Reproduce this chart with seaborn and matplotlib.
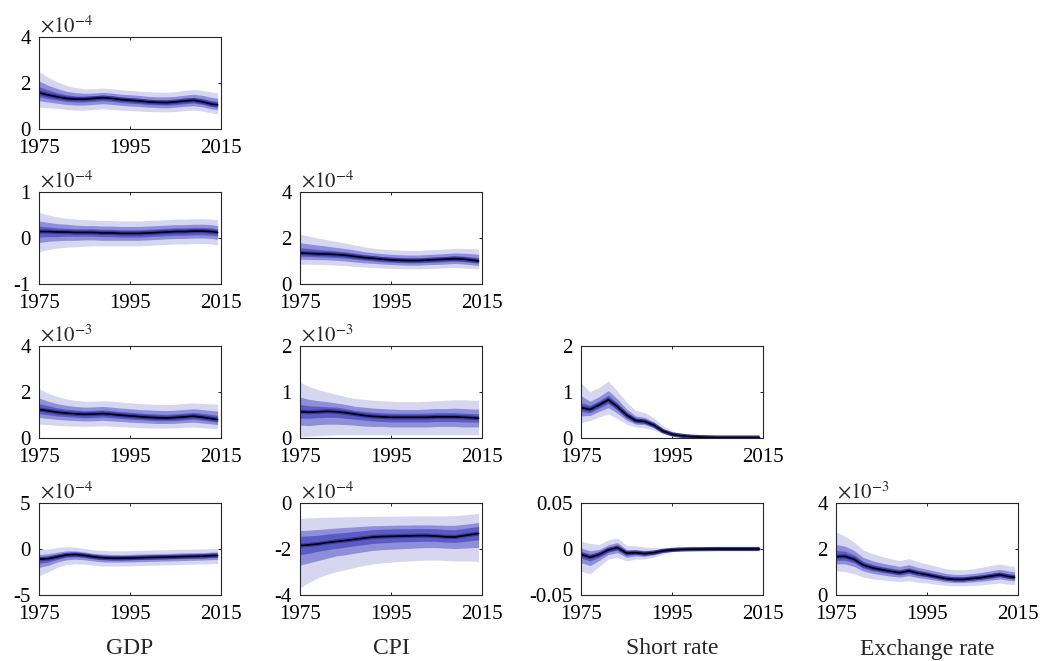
import numpy as np
import pandas as pd
import matplotlib
matplotlib.use("Agg")
import matplotlib.pyplot as plt
import seaborn as sns

# ---------------------------------------------------------------
# Posterior fan charts of the time-varying error covariance matrix
# (lower triangle: GDP, CPI, short rate, exchange rate)
# ---------------------------------------------------------------
years = [1975, 1977, 1979, 1981, 1983, 1985, 1987, 1989, 1991, 1993, 1995,
         1997, 1999, 2001, 2003, 2005, 2007, 2009, 2011, 2013, 2014.25]

variables = ["GDP", "CPI", "Short rate", "Exchange rate"]

# --- GDP variance (x 1e-4)
gdp_gdp_med  = [1.58, 1.48, 1.40, 1.33, 1.30, 1.30, 1.33, 1.36, 1.33, 1.28, 1.25, 1.22, 1.18, 1.16, 1.15, 1.18, 1.22, 1.25, 1.18, 1.08, 1.05]
gdp_gdp_hi90 = [2.50, 2.25, 2.05, 1.90, 1.80, 1.75, 1.75, 1.78, 1.75, 1.70, 1.68, 1.65, 1.62, 1.60, 1.60, 1.62, 1.68, 1.72, 1.68, 1.60, 1.58]
gdp_gdp_lo90 = [0.95, 0.92, 0.90, 0.85, 0.82, 0.82, 0.85, 0.88, 0.85, 0.82, 0.80, 0.78, 0.76, 0.75, 0.74, 0.76, 0.80, 0.82, 0.78, 0.70, 0.66]
gdp_gdp_hi68 = [2.09, 1.90, 1.76, 1.64, 1.58, 1.55, 1.56, 1.59, 1.56, 1.51, 1.49, 1.46, 1.42, 1.40, 1.40, 1.42, 1.47, 1.51, 1.46, 1.37, 1.34]
gdp_gdp_lo68 = [1.23, 1.17, 1.12, 1.07, 1.04, 1.04, 1.07, 1.10, 1.07, 1.03, 1.00, 0.98, 0.95, 0.93, 0.92, 0.95, 0.99, 1.01, 0.96, 0.87, 0.84]
gdp_gdp_hi30 = [1.84, 1.70, 1.58, 1.49, 1.44, 1.43, 1.45, 1.48, 1.45, 1.40, 1.37, 1.34, 1.30, 1.28, 1.28, 1.30, 1.35, 1.38, 1.32, 1.23, 1.20]
gdp_gdp_lo30 = [1.40, 1.32, 1.26, 1.20, 1.17, 1.17, 1.20, 1.23, 1.20, 1.15, 1.12, 1.10, 1.06, 1.05, 1.04, 1.06, 1.10, 1.13, 1.07, 0.97, 0.94]

# --- GDP / CPI covariance (x 1e-4)
gdp_cpi_med  = [0.14, 0.14, 0.13, 0.13, 0.12, 0.12, 0.12, 0.11, 0.11, 0.10, 0.10, 0.10, 0.11, 0.12, 0.13, 0.14, 0.14, 0.15, 0.15, 0.14, 0.12]
gdp_cpi_hi90 = [0.56, 0.50, 0.46, 0.43, 0.41, 0.40, 0.39, 0.38, 0.38, 0.37, 0.37, 0.37, 0.38, 0.39, 0.40, 0.41, 0.41, 0.42, 0.42, 0.41, 0.40]
gdp_cpi_lo90 = [-0.30, -0.25, -0.22, -0.20, -0.19, -0.18, -0.17, -0.17, -0.17, -0.17, -0.17, -0.17, -0.16, -0.15, -0.14, -0.13, -0.13, -0.12, -0.12, -0.13, -0.15]
gdp_cpi_hi68 = [0.37, 0.34, 0.31, 0.30, 0.28, 0.27, 0.27, 0.26, 0.26, 0.25, 0.25, 0.25, 0.26, 0.27, 0.28, 0.29, 0.29, 0.30, 0.30, 0.29, 0.27]
gdp_cpi_lo68 = [-0.10, -0.07, -0.06, -0.05, -0.05, -0.04, -0.04, -0.05, -0.05, -0.05, -0.05, -0.05, -0.04, -0.03, -0.02, -0.01, -0.01, 0.00, 0.00, -0.01, -0.03]
gdp_cpi_hi30 = [0.26, 0.24, 0.22, 0.21, 0.20, 0.20, 0.20, 0.19, 0.19, 0.18, 0.18, 0.18, 0.19, 0.20, 0.21, 0.22, 0.22, 0.23, 0.23, 0.22, 0.20]
gdp_cpi_lo30 = [0.02, 0.03, 0.03, 0.04, 0.04, 0.04, 0.04, 0.03, 0.03, 0.02, 0.02, 0.02, 0.03, 0.04, 0.05, 0.06, 0.06, 0.07, 0.07, 0.06, 0.04]

# --- CPI variance (x 1e-4)
cpi_cpi_med  = [1.35, 1.33, 1.31, 1.30, 1.28, 1.25, 1.20, 1.15, 1.12, 1.08, 1.05, 1.03, 1.02, 1.02, 1.04, 1.06, 1.08, 1.10, 1.08, 1.03, 1.00]
cpi_cpi_hi90 = [2.17, 2.08, 2.00, 1.92, 1.85, 1.78, 1.70, 1.62, 1.56, 1.52, 1.49, 1.47, 1.46, 1.46, 1.48, 1.50, 1.52, 1.55, 1.55, 1.53, 1.52]
cpi_cpi_lo90 = [0.86, 0.86, 0.85, 0.84, 0.82, 0.80, 0.77, 0.74, 0.72, 0.70, 0.68, 0.67, 0.66, 0.66, 0.67, 0.68, 0.70, 0.72, 0.70, 0.67, 0.65]
cpi_cpi_hi68 = [1.80, 1.74, 1.69, 1.64, 1.59, 1.54, 1.48, 1.41, 1.36, 1.32, 1.29, 1.27, 1.26, 1.26, 1.28, 1.30, 1.32, 1.35, 1.34, 1.31, 1.29]
cpi_cpi_lo68 = [1.08, 1.07, 1.06, 1.05, 1.03, 1.00, 0.96, 0.92, 0.90, 0.87, 0.85, 0.83, 0.82, 0.82, 0.84, 0.85, 0.87, 0.89, 0.87, 0.83, 0.81]
cpi_cpi_hi30 = [1.58, 1.54, 1.50, 1.47, 1.44, 1.40, 1.34, 1.28, 1.24, 1.20, 1.17, 1.15, 1.14, 1.14, 1.16, 1.18, 1.20, 1.23, 1.21, 1.17, 1.15]
cpi_cpi_lo30 = [1.21, 1.20, 1.18, 1.17, 1.15, 1.12, 1.08, 1.04, 1.01, 0.97, 0.95, 0.93, 0.92, 0.92, 0.94, 0.95, 0.97, 0.99, 0.97, 0.93, 0.90]

# --- GDP / short rate covariance (x 1e-3)
gdp_sr_med  = [1.24, 1.18, 1.12, 1.08, 1.05, 1.03, 1.04, 1.06, 1.03, 0.99, 0.96, 0.93, 0.90, 0.88, 0.87, 0.89, 0.92, 0.95, 0.90, 0.84, 0.80]
gdp_sr_hi90 = [2.14, 1.95, 1.80, 1.70, 1.64, 1.60, 1.60, 1.62, 1.60, 1.56, 1.53, 1.50, 1.48, 1.46, 1.45, 1.47, 1.50, 1.53, 1.50, 1.48, 1.47]
gdp_sr_lo90 = [0.60, 0.58, 0.55, 0.53, 0.52, 0.51, 0.52, 0.53, 0.51, 0.49, 0.47, 0.45, 0.44, 0.43, 0.43, 0.44, 0.46, 0.48, 0.45, 0.42, 0.40]
gdp_sr_hi68 = [1.74, 1.60, 1.49, 1.42, 1.37, 1.34, 1.35, 1.37, 1.34, 1.30, 1.27, 1.24, 1.22, 1.20, 1.19, 1.21, 1.24, 1.27, 1.23, 1.19, 1.17]
gdp_sr_lo68 = [0.89, 0.85, 0.81, 0.78, 0.76, 0.74, 0.75, 0.77, 0.74, 0.72, 0.69, 0.67, 0.65, 0.63, 0.63, 0.64, 0.67, 0.69, 0.65, 0.61, 0.58]
gdp_sr_hi30 = [1.49, 1.40, 1.31, 1.25, 1.22, 1.19, 1.20, 1.22, 1.19, 1.15, 1.12, 1.09, 1.06, 1.04, 1.03, 1.05, 1.08, 1.11, 1.07, 1.02, 0.99]
gdp_sr_lo30 = [1.06, 1.01, 0.96, 0.93, 0.90, 0.88, 0.89, 0.91, 0.88, 0.85, 0.82, 0.80, 0.77, 0.75, 0.75, 0.76, 0.79, 0.82, 0.77, 0.72, 0.69]

# --- CPI / short rate covariance (x 1e-3)
cpi_sr_med  = [0.57, 0.56, 0.57, 0.58, 0.57, 0.55, 0.52, 0.49, 0.47, 0.46, 0.45, 0.45, 0.45, 0.45, 0.45, 0.46, 0.46, 0.46, 0.45, 0.44, 0.43]
cpi_sr_hi90 = [1.21, 1.12, 1.05, 1.00, 0.95, 0.90, 0.86, 0.84, 0.82, 0.81, 0.80, 0.79, 0.79, 0.79, 0.80, 0.81, 0.82, 0.83, 0.83, 0.82, 0.82]
cpi_sr_lo90 = [0.03, 0.04, 0.05, 0.06, 0.07, 0.07, 0.07, 0.07, 0.07, 0.07, 0.07, 0.07, 0.07, 0.07, 0.07, 0.07, 0.07, 0.07, 0.07, 0.07, 0.07]
cpi_sr_hi68 = [0.89, 0.84, 0.81, 0.79, 0.76, 0.73, 0.69, 0.67, 0.65, 0.64, 0.63, 0.62, 0.62, 0.62, 0.63, 0.64, 0.64, 0.65, 0.64, 0.63, 0.63]
cpi_sr_lo68 = [0.28, 0.27, 0.29, 0.30, 0.30, 0.29, 0.28, 0.26, 0.25, 0.25, 0.24, 0.24, 0.24, 0.24, 0.24, 0.25, 0.25, 0.25, 0.24, 0.24, 0.24]
cpi_sr_hi30 = [0.73, 0.70, 0.69, 0.68, 0.67, 0.64, 0.60, 0.58, 0.56, 0.55, 0.54, 0.54, 0.54, 0.54, 0.54, 0.55, 0.55, 0.55, 0.54, 0.53, 0.53]
cpi_sr_lo30 = [0.43, 0.43, 0.44, 0.45, 0.45, 0.43, 0.41, 0.39, 0.37, 0.36, 0.35, 0.35, 0.35, 0.35, 0.35, 0.36, 0.36, 0.36, 0.35, 0.35, 0.34]

# --- short rate variance
sr_sr_med  = [0.66, 0.62, 0.72, 0.83, 0.68, 0.50, 0.38, 0.36, 0.28, 0.15, 0.08, 0.05, 0.03, 0.02, 0.015, 0.010, 0.010, 0.010, 0.010, 0.010, 0.010]
sr_sr_hi90 = [1.20, 1.00, 1.10, 1.24, 1.02, 0.78, 0.60, 0.55, 0.44, 0.26, 0.15, 0.09, 0.06, 0.04, 0.030, 0.025, 0.020, 0.020, 0.020, 0.020, 0.020]
sr_sr_lo90 = [0.34, 0.38, 0.46, 0.52, 0.42, 0.30, 0.24, 0.22, 0.17, 0.09, 0.04, 0.02, 0.01, 0.005, 0.004, 0.003, 0.003, 0.003, 0.003, 0.003, 0.003]
sr_sr_hi68 = [0.92, 0.80, 0.90, 1.03, 0.85, 0.63, 0.48, 0.45, 0.35, 0.20, 0.11, 0.07, 0.045, 0.030, 0.022, 0.017, 0.015, 0.015, 0.015, 0.015, 0.015]
sr_sr_lo68 = [0.48, 0.49, 0.58, 0.66, 0.54, 0.39, 0.30, 0.29, 0.22, 0.12, 0.06, 0.035, 0.020, 0.012, 0.009, 0.006, 0.006, 0.006, 0.006, 0.006, 0.006]
sr_sr_hi30 = [0.77, 0.71, 0.81, 0.93, 0.76, 0.56, 0.43, 0.40, 0.31, 0.17, 0.09, 0.06, 0.040, 0.025, 0.018, 0.013, 0.012, 0.012, 0.012, 0.012, 0.012]
sr_sr_lo30 = [0.57, 0.55, 0.65, 0.75, 0.61, 0.44, 0.33, 0.32, 0.25, 0.13, 0.07, 0.04, 0.025, 0.016, 0.012, 0.008, 0.008, 0.008, 0.008, 0.008, 0.008]

# --- GDP / exchange rate covariance (x 1e-4)
gdp_er_med  = [-1.10, -1.05, -0.85, -0.65, -0.60, -0.70, -0.85, -0.95, -1.00, -1.00, -0.98, -0.95, -0.92, -0.90, -0.88, -0.85, -0.82, -0.80, -0.78, -0.72, -0.70]
gdp_er_hi90 = [-0.10, 0.00, 0.15, 0.25, 0.20, 0.05, -0.10, -0.15, -0.20, -0.20, -0.18, -0.15, -0.12, -0.10, -0.08, -0.05, -0.03, 0.00, 0.00, 0.05, 0.05]
gdp_er_lo90 = [-2.90, -2.50, -2.00, -1.70, -1.60, -1.65, -1.75, -1.85, -1.85, -1.85, -1.83, -1.80, -1.77, -1.75, -1.72, -1.70, -1.67, -1.65, -1.63, -1.60, -1.60]
gdp_er_hi68 = [-0.60, -0.52, -0.35, -0.20, -0.20, -0.32, -0.47, -0.55, -0.60, -0.60, -0.58, -0.55, -0.52, -0.50, -0.48, -0.45, -0.42, -0.40, -0.39, -0.33, -0.32]
gdp_er_lo68 = [-2.00, -1.78, -1.42, -1.18, -1.10, -1.18, -1.30, -1.40, -1.42, -1.42, -1.40, -1.38, -1.35, -1.32, -1.30, -1.28, -1.25, -1.22, -1.20, -1.16, -1.15]
gdp_er_hi30 = [-0.85, -0.78, -0.60, -0.42, -0.40, -0.51, -0.66, -0.75, -0.80, -0.80, -0.78, -0.75, -0.72, -0.70, -0.68, -0.65, -0.62, -0.60, -0.58, -0.53, -0.51]
gdp_er_lo30 = [-1.55, -1.41, -1.14, -0.91, -0.85, -0.94, -1.08, -1.18, -1.21, -1.21, -1.19, -1.16, -1.13, -1.11, -1.09, -1.06, -1.03, -1.01, -0.99, -0.94, -0.92]

# --- CPI / exchange rate covariance (x 1e-4)
cpi_er_med  = [-1.85, -1.82, -1.78, -1.72, -1.67, -1.63, -1.58, -1.53, -1.48, -1.46, -1.45, -1.44, -1.43, -1.42, -1.42, -1.44, -1.47, -1.48, -1.42, -1.36, -1.33]
cpi_er_hi90 = [-0.67, -0.65, -0.63, -0.62, -0.61, -0.60, -0.60, -0.59, -0.58, -0.58, -0.57, -0.57, -0.57, -0.56, -0.56, -0.56, -0.56, -0.55, -0.52, -0.48, -0.45]
cpi_er_lo90 = [-3.68, -3.45, -3.25, -3.10, -2.98, -2.90, -2.80, -2.72, -2.65, -2.60, -2.57, -2.54, -2.52, -2.50, -2.48, -2.48, -2.50, -2.52, -2.52, -2.52, -2.55]
cpi_er_hi68 = [-1.20, -1.18, -1.15, -1.12, -1.09, -1.06, -1.04, -1.01, -0.99, -0.98, -0.97, -0.96, -0.96, -0.95, -0.95, -0.96, -0.97, -0.97, -0.93, -0.88, -0.85]
cpi_er_lo68 = [-2.70, -2.60, -2.50, -2.40, -2.30, -2.25, -2.18, -2.12, -2.06, -2.03, -2.01, -1.99, -1.97, -1.95, -1.94, -1.94, -1.96, -1.98, -1.96, -1.94, -1.93]
cpi_er_hi30 = [-1.45, -1.43, -1.40, -1.35, -1.31, -1.28, -1.24, -1.20, -1.16, -1.14, -1.13, -1.12, -1.12, -1.11, -1.11, -1.12, -1.15, -1.16, -1.11, -1.05, -1.02]
cpi_er_lo30 = [-2.25, -2.18, -2.10, -2.03, -1.97, -1.92, -1.86, -1.81, -1.76, -1.73, -1.71, -1.69, -1.68, -1.67, -1.66, -1.67, -1.70, -1.71, -1.67, -1.62, -1.60]

# --- short rate / exchange rate covariance
sr_er_med  = [-0.0060, -0.0090, -0.0060, -0.0010, 0.0015, -0.0045, -0.0040, -0.0050, -0.0040, -0.0020, -0.0010, -0.0005, -0.0003, -0.0002, -0.0001, 0.0, 0.0, 0.0, 0.0, 0.0, 0.0]
sr_er_hi90 = [0.0085, 0.0060, 0.0050, 0.0100, 0.0120, 0.0040, 0.0035, 0.0020, 0.0015, 0.0010, 0.0006, 0.0004, 0.0003, 0.0003, 0.0003, 0.0003, 0.0003, 0.0003, 0.0003, 0.0003, 0.0003]
sr_er_lo90 = [-0.0240, -0.0270, -0.0190, -0.0110, -0.0090, -0.0130, -0.0110, -0.0110, -0.0090, -0.0055, -0.0030, -0.0018, -0.0012, -0.0009, -0.0007, -0.0006, -0.0005, -0.0005, -0.0005, -0.0005, -0.0005]
sr_er_hi68 = [0.0010, -0.0020, -0.0005, 0.0045, 0.0070, -0.0005, -0.0005, -0.0015, -0.0012, -0.0005, -0.0002, -0.0001, 0.0, 0.0, 0.0001, 0.0001, 0.0001, 0.0001, 0.0001, 0.0001, 0.0001]
sr_er_lo68 = [-0.0150, -0.0180, -0.0125, -0.0060, -0.0040, -0.0090, -0.0075, -0.0080, -0.0065, -0.0038, -0.0020, -0.0011, -0.0007, -0.0005, -0.0004, -0.0003, -0.0002, -0.0002, -0.0002, -0.0002, -0.0002]
sr_er_hi30 = [-0.0025, -0.0055, -0.0033, 0.0017, 0.0042, -0.0025, -0.0022, -0.0032, -0.0026, -0.0012, -0.0006, -0.0003, -0.0001, -0.0001, 0.0, 0.0, 0.0, 0.0, 0.0, 0.0, 0.0]
sr_er_lo30 = [-0.0100, -0.0130, -0.0090, -0.0035, -0.0012, -0.0068, -0.0058, -0.0065, -0.0053, -0.0028, -0.0015, -0.0008, -0.0005, -0.0003, -0.0002, -0.0001, -0.0001, -0.0001, -0.0001, -0.0001, -0.0001]

# --- exchange rate variance (x 1e-3)
er_er_med  = [1.67, 1.68, 1.55, 1.30, 1.18, 1.10, 1.03, 0.97, 1.05, 0.95, 0.88, 0.80, 0.72, 0.68, 0.68, 0.72, 0.76, 0.82, 0.88, 0.80, 0.77]
er_er_hi90 = [2.74, 2.55, 2.30, 1.95, 1.80, 1.68, 1.58, 1.50, 1.58, 1.45, 1.35, 1.25, 1.15, 1.10, 1.10, 1.14, 1.20, 1.28, 1.35, 1.27, 1.24]
er_er_lo90 = [1.05, 1.02, 0.92, 0.78, 0.70, 0.66, 0.62, 0.58, 0.62, 0.56, 0.52, 0.47, 0.42, 0.40, 0.40, 0.42, 0.44, 0.48, 0.52, 0.47, 0.45]
er_er_hi68 = [2.20, 2.12, 1.93, 1.63, 1.49, 1.39, 1.31, 1.24, 1.32, 1.20, 1.12, 1.03, 0.94, 0.89, 0.89, 0.93, 0.98, 1.05, 1.12, 1.04, 1.01]
er_er_lo68 = [1.35, 1.35, 1.24, 1.04, 0.94, 0.88, 0.82, 0.78, 0.84, 0.76, 0.70, 0.64, 0.57, 0.54, 0.54, 0.57, 0.60, 0.65, 0.70, 0.64, 0.61]
er_er_hi30 = [1.94, 1.90, 1.74, 1.46, 1.33, 1.24, 1.17, 1.10, 1.18, 1.07, 1.00, 0.91, 0.83, 0.78, 0.78, 0.82, 0.87, 0.93, 1.00, 0.92, 0.89]
er_er_lo30 = [1.51, 1.51, 1.40, 1.17, 1.06, 0.99, 0.93, 0.87, 0.94, 0.85, 0.79, 0.72, 0.65, 0.61, 0.61, 0.65, 0.68, 0.73, 0.79, 0.72, 0.69]

x_ticks = [1975, 1995, 2015]
x_ticklabels = ["1975", "1995", "2015"]

# (row, col): (quantile series, y ticks, y tick labels, power-of-ten multiplier)
panels = {
    (0, 0): ((gdp_gdp_med, gdp_gdp_lo90, gdp_gdp_hi90, gdp_gdp_lo68, gdp_gdp_hi68, gdp_gdp_lo30, gdp_gdp_hi30),
             [0, 2, 4], ["0", "2", "4"], -4),
    (1, 0): ((gdp_cpi_med, gdp_cpi_lo90, gdp_cpi_hi90, gdp_cpi_lo68, gdp_cpi_hi68, gdp_cpi_lo30, gdp_cpi_hi30),
             [-1, 0, 1], ["-1", "0", "1"], -4),
    (1, 1): ((cpi_cpi_med, cpi_cpi_lo90, cpi_cpi_hi90, cpi_cpi_lo68, cpi_cpi_hi68, cpi_cpi_lo30, cpi_cpi_hi30),
             [0, 2, 4], ["0", "2", "4"], -4),
    (2, 0): ((gdp_sr_med, gdp_sr_lo90, gdp_sr_hi90, gdp_sr_lo68, gdp_sr_hi68, gdp_sr_lo30, gdp_sr_hi30),
             [0, 2, 4], ["0", "2", "4"], -3),
    (2, 1): ((cpi_sr_med, cpi_sr_lo90, cpi_sr_hi90, cpi_sr_lo68, cpi_sr_hi68, cpi_sr_lo30, cpi_sr_hi30),
             [0, 1, 2], ["0", "1", "2"], -3),
    (2, 2): ((sr_sr_med, sr_sr_lo90, sr_sr_hi90, sr_sr_lo68, sr_sr_hi68, sr_sr_lo30, sr_sr_hi30),
             [0, 1, 2], ["0", "1", "2"], None),
    (3, 0): ((gdp_er_med, gdp_er_lo90, gdp_er_hi90, gdp_er_lo68, gdp_er_hi68, gdp_er_lo30, gdp_er_hi30),
             [-5, 0, 5], ["-5", "0", "5"], -4),
    (3, 1): ((cpi_er_med, cpi_er_lo90, cpi_er_hi90, cpi_er_lo68, cpi_er_hi68, cpi_er_lo30, cpi_er_hi30),
             [-4, -2, 0], ["-4", "-2", "0"], -4),
    (3, 2): ((sr_er_med, sr_er_lo90, sr_er_hi90, sr_er_lo68, sr_er_hi68, sr_er_lo30, sr_er_hi30),
             [-0.05, 0, 0.05], ["-0.05", "0", "0.05"], None),
    (3, 3): ((er_er_med, er_er_lo90, er_er_hi90, er_er_lo68, er_er_hi68, er_er_lo30, er_er_hi30),
             [0, 2, 4], ["0", "2", "4"], -3),
}

# ---------------------------------------------------------------- style
sns.set_theme(style="ticks")
plt.rcParams["font.family"] = ["Liberation Serif", "DejaVu Serif"]
plt.rcParams["mathtext.fontset"] = "stix"
plt.rcParams["axes.linewidth"] = 0.8
plt.rcParams["axes.edgecolor"] = "#262626"

band_colors = ["#D6D6F1", "#8E8ED9", "#5B5BC5"]
halo_color = "#3636A8"
tick_size = 15
label_size = 17

fig = plt.figure(figsize=(10.4, 6.61), dpi=100)
W, H = 1040.0, 661.0
col_left = [39, 300, 581, 836]
row_top = [37, 192, 346, 503]
ax_w, ax_h = 182, 92

for (r, c), (series, yt, ytl, power) in panels.items():
    med, lo90, hi90, lo68, hi68, lo30, hi30 = series
    ax = fig.add_axes([col_left[c] / W, 1 - (row_top[r] + ax_h) / H, ax_w / W, ax_h / H])

    ax.fill_between(years, lo90, hi90, color=band_colors[0], lw=0, zorder=1)
    ax.fill_between(years, lo68, hi68, color=band_colors[1], lw=0, zorder=2)
    ax.fill_between(years, lo30, hi30, color=band_colors[2], lw=0, zorder=3)
    ax.plot(years, med, color=halo_color, lw=3.0, solid_capstyle="butt", zorder=4)
    df = pd.DataFrame({"year": years, "median": med})
    sns.lineplot(data=df, x="year", y="median", ax=ax, color="black", lw=1.2,
                 zorder=5, legend=False)

    ax.set_xlim(1975, 2015)
    ax.set_ylim(yt[0], yt[-1])
    ax.set_xticks(x_ticks)
    ax.set_xticklabels(x_ticklabels)
    ax.set_yticks(yt)
    ax.set_yticklabels(ytl)
    ax.set_xlabel("")
    ax.set_ylabel("")
    ax.tick_params(direction="in", length=2.5, width=0.6, top=True, right=True,
                   labelsize=tick_size, colors="black")
    ax.tick_params(axis="x", pad=7.5)
    ax.tick_params(axis="y", pad=6)
    for s in ax.spines.values():
        s.set_visible(True)
        s.set_zorder(10)

    if power is not None:
        ax.text(0.005, 1.0, r"$\times10^{%d}$" % power, transform=ax.transAxes,
                ha="left", va="bottom", fontsize=tick_size)

for c, name in enumerate(variables):
    fig.text((col_left[c] + ax_w / 2) / W, 1 - 649 / H, name,
             ha="center", va="center", fontsize=label_size)

fig.savefig("out.png", dpi=100)
